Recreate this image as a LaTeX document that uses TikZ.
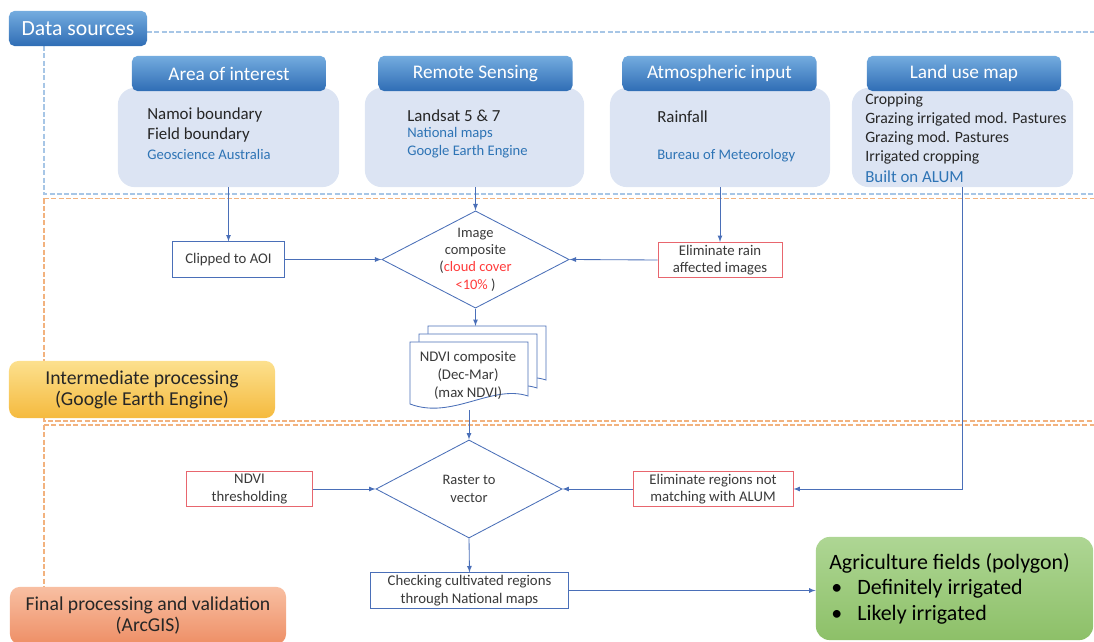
\documentclass[tikz,border=0pt]{standalone}
\usepackage{fontspec}
\setmainfont{Carlito}
\usetikzlibrary{shapes.geometric,calc}
\tikzset{>=latex}

\definecolor{hdrtop}{HTML}{74ACDF}
\definecolor{hdrbot}{HTML}{2F6DB5}
\definecolor{srcfill}{HTML}{DCE4F3}
\definecolor{srcblue}{HTML}{2E74B5}
\definecolor{flowblue}{HTML}{4A6FB8}
\definecolor{boxred}{HTML}{E8666E}
\definecolor{txtgray}{HTML}{3A3A3A}
\definecolor{dashblue}{HTML}{A7C6E6}
\definecolor{dashorange}{HTML}{F2B27E}
\definecolor{intertop}{HTML}{FCE08E}
\definecolor{interbot}{HTML}{F5BA3E}
\definecolor{finaltop}{HTML}{F8BFA2}
\definecolor{finalbot}{HTML}{EE8F66}
\definecolor{agritop}{HTML}{AED694}
\definecolor{agribot}{HTML}{8DC068}
\definecolor{cloudred}{HTML}{FF3B3B}

\tikzset{
  header/.style={rounded corners=4pt, inner sep=0pt, top color=hdrtop, bottom color=hdrbot,
    text=white, minimum width=4.85cm, minimum height=0.88cm, font=\fontsize{13.7}{16}\selectfont},
  srcbox/.style={fill=srcfill, rounded corners=12pt, inner sep=0pt, minimum height=2.48cm},
  srctext/.style={anchor=west, inner sep=0pt, text=black!85, font=\fontsize{12}{14}\selectfont},
  srcnote/.style={anchor=west, inner sep=0pt, text=srcblue, font=\fontsize{10.4}{12}\selectfont},
  lutext/.style={anchor=west, inner sep=0pt, text=black!85, font=\fontsize{11.2}{13}\selectfont},
  process/.style={draw=flowblue, line width=0.6pt, fill=white, align=center, text=txtgray,
    minimum height=0.88cm, inner sep=1pt, font=\fontsize{10.5}{12.3}\selectfont},
  filter/.style={process, draw=boxred},
  decision/.style={diamond, draw=flowblue, line width=0.6pt, fill=white, inner sep=0pt},
  dectext/.style={align=center, text=txtgray, inner sep=0pt, font=\fontsize{10.3}{12.3}\selectfont},
  sheet/.style={draw=flowblue, line width=0.6pt, fill=white},
  link/.style={->, draw=flowblue, line width=0.6pt},
  zone/.style={line width=0.8pt, dash pattern=on 3.6pt off 1.6pt},
  stage/.style={rounded corners=7pt, align=center, inner sep=0pt, text=black!85,
    minimum height=1.43cm, font=\fontsize{14}{15}\selectfont},
}

\begin{document}
\begin{tikzpicture}[x=0.025cm, y=-0.025cm]
\useasboundingbox (0,0) rectangle (1094,642);

% dashed zones
\draw[zone, draw=dashblue] (147,32) -- (1094,32);
\draw[zone, draw=dashblue] (44,46) -- (44,194) -- (1094,194);
\draw[zone, draw=dashorange, line width=1pt] (44,198.5) -- (1094,198.5);
\draw[zone, draw=dashorange, line width=1pt] (44,198.5) -- (44,421) -- (1094,421);
\draw[zone, draw=dashorange, line width=1pt] (44,425) -- (1094,425);
\draw[zone, draw=dashorange, line width=1pt] (44,425) -- (44,600);

\node[header, minimum width=3.45cm, font=\fontsize{15.4}{18}\selectfont] (datasrc) at (78,28.5) {Data sources};

% data sources
\node[srcbox, minimum width=5.53cm] (aoibox) at (228.5,137.5) {};
\node[srcbox, minimum width=5.48cm] (rsbox) at (474.5,137.5) {};
\node[srcbox, minimum width=5.5cm] (atmbox) at (720,137.5) {};
\node[srcbox, minimum width=5.53cm] (lubox) at (962.5,137.5) {};

\node[header] (aoihead) at (229,73.5) {Area of interest};
\node[header] (rshead) at (475.5,73.5) {Remote Sensing};
\node[header] (atmhead) at (719.5,73.5) {Atmospheric input};
\node[header] (luhead) at (964,73.5) {Land use map};

\node[srctext] (namoi) at (147,115) {Namoi boundary};
\node[srctext] (field) at (147,135) {Field boundary};
\node[srcnote] (geosci) at (147,154) {Geoscience Australia};

\node[srctext] (landsat) at (407,116) {Landsat 5 \& 7};
\node[srcnote] (natmaps) at (407,134) {National maps};
\node[srcnote] (gee) at (407,152) {Google Earth Engine};

\node[srctext] (rainfall) at (657,117) {Rainfall};
\node[srcnote] (bom) at (657,156) {Bureau of Meteorology};

\node[lutext] (crop) at (865,100) {Cropping};
\node[lutext] (grazirr) at (865,119) {Grazing irrigated mod. Pastures};
\node[lutext] (grazmod) at (865,138) {Grazing mod. Pastures};
\node[lutext] (irrcrop) at (865,157) {Irrigated cropping};
\node[srcnote, font=\fontsize{12}{14}\selectfont] (alum) at (865,177) {Built on ALUM};

% intermediate processing
\node[process, minimum width=2.78cm] (clip) at (228.5,259.5) {Clipped to AOI};
\node[decision, minimum width=4.68cm, minimum height=2.43cm] (imgcomp) at (475.5,259.5) {};
\node[dectext] (imgcomptext) at (475.5,259.5) {Image\\composite\\({\color{cloudred}cloud cover}\\{\color{cloudred}<10\%} )};
\node[filter, minimum width=3.1cm] (rain) at (720,260) {Eliminate rain\\affected images};

\foreach \d in {2,1,0}
  \draw[sheet, shift={(\d*9,-\d*8)}] (410,342) -- (528,342) -- (528,396)
    .. controls (492,384) and (452,420) .. (410,404) -- cycle;
\node[dectext, font=\fontsize{10.5}{12.8}\selectfont] (ndvi) at (468,375) {NDVI composite\\(Dec-Mar)\\(max NDVI)};
\coordinate (ndvitop) at (475.5,326);
\coordinate (ndvibot) at (469,410);

\node[stage, top color=intertop, bottom color=interbot, minimum width=6.65cm] (inter) at (142,389.5)
  {Intermediate processing\\(Google Earth Engine)};

% final processing
\node[filter, minimum width=3.13cm] (thresh) at (249.5,489) {NDVI\\thresholding};
\node[decision, minimum width=4.65cm, minimum height=2.45cm] (raster) at (469,489) {};
\node[dectext] (rastertext) at (469,489) {Raster to\\vector};
\node[filter, minimum width=4cm] (elimreg) at (713,489) {Eliminate regions not\\matching with ALUM};
\node[process, minimum width=4.93cm] (check) at (469.5,590.5) {Checking cultivated regions\\through National maps};

\node[rounded corners=10pt, top color=agritop, bottom color=agribot, minimum width=6.93cm,
  minimum height=2.58cm, inner sep=0pt] (agri) at (954.5,588.5) {};
\node[anchor=west, inner sep=0pt, font=\fontsize{15.6}{18}\selectfont] (agrititle) at (829,563) {Agriculture fields (polygon)};
\node[anchor=west, inner sep=0pt, font=\fontsize{15.6}{18}\selectfont] (bulA) at (831,589) {•};
\node[anchor=west, inner sep=0pt, font=\fontsize{15.6}{18}\selectfont] (definite) at (857,589) {Definitely irrigated};
\node[anchor=west, inner sep=0pt, font=\fontsize{15.6}{18}\selectfont] (bulB) at (831,615) {•};
\node[anchor=west, inner sep=0pt, font=\fontsize{15.6}{18}\selectfont] (likely) at (857,615) {Likely irrigated};

\node[stage, top color=finaltop, bottom color=finalbot, minimum width=6.9cm] (final) at (148,615.5)
  {Final processing and validation\\(ArcGIS)};

% connectors
\draw[link] (aoibox.south) -- (clip.north);
\draw[link] (imgcomp.north |- rsbox.south) -- (imgcomp.north);
\draw[link] (atmbox.south) -- (rain.north);
\draw[link] (clip.east) -- (imgcomp.west);
\draw[link] (rain.west) -- (imgcomp.east);
\draw[link] (imgcomp.south) -- (ndvitop);
\draw[link] (ndvibot) -- (raster.north);
\draw[link] (thresh.east) -- (raster.west);
\draw[link] (elimreg.west) -- (raster.east);
\draw[link] (lubox.south) |- (elimreg.east);
\draw[link] (raster.south) -- (check.north);
\draw[link] (check.east) -- (check.east -| agri.west);

\end{tikzpicture}
\end{document}
